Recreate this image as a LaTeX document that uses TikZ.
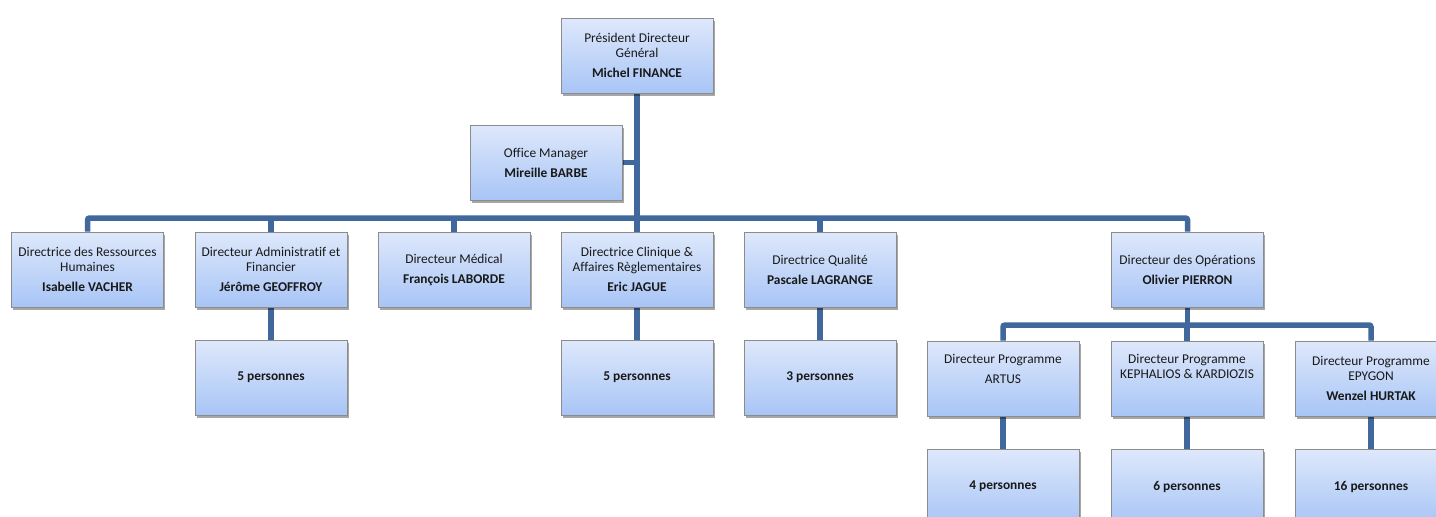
\documentclass[tikz,border=0pt]{standalone}
\usepackage{fontspec}
\setmainfont[Ligatures=NoCommon]{Carlito}
\usetikzlibrary{shadows}
\pgfdeclarelayer{canvas}
\pgfdeclarelayer{background}
\pgfsetlayers{canvas,background,main}
\definecolor{linkblue}{RGB}{64,104,156}
\definecolor{boxtop}{RGB}{222,232,251}
\definecolor{boxbot}{RGB}{168,197,246}
\definecolor{boxedge}{RGB}{140,140,140}
\tikzset{
  orgbox/.style={rectangle, draw=boxedge, line width=0.7pt,
    top color=boxtop, bottom color=boxbot,
    minimum width=152pt, minimum height=75pt, inner sep=0pt,
    align=center, font=\fontsize{13.4}{15}\selectfont, text=black!90,
    drop shadow={shadow xshift=1.5pt, shadow yshift=-2.5pt, opacity=0.35, fill=black}},
  link/.style={draw=linkblue, line width=5.5pt, rounded corners=2pt}
}
\newcommand{\nm}[1]{\\[5pt]\textbf{#1}}
\begin{document}
\begin{tikzpicture}[x=1pt,y=-1pt]
\useasboundingbox (0,0) rectangle (1436,517);
\clip (0,0) rectangle (1436,517);
\begin{pgfonlayer}{canvas}
  \fill[white] (0,0) rectangle (1436,517);
\end{pgfonlayer}

% top level
\node[orgbox] (pdg) at (637,55.5) {Président Directeur\\Général\nm{Michel FINANCE}};
\node[orgbox] (office) at (546,162.5) {Office Manager\nm{Mireille BARBE}};

% directors
\node[orgbox] (drh) at (87.5,269.5) {Directrice des Ressources\\Humaines\nm{Isabelle VACHER}};
\node[orgbox] (daf) at (271,269.5) {Directeur Administratif et\\Financier\nm{Jérôme GEOFFROY}};
\node[orgbox] (med) at (454,269.5) {Directeur Médical\nm{François LABORDE}};
\node[orgbox] (cli) at (637,269.5) {Directrice Clinique \&\\Affaires Règlementaires\nm{Eric JAGUE}};
\node[orgbox] (qua) at (820,269.5) {Directrice Qualité\nm{Pascale LAGRANGE}};
\node[orgbox] (ops) at (1187.5,269.5) {Directeur des Opérations\nm{Olivier PIERRON}};

% teams
\node[orgbox] (tdaf) at (271,377.5) {\textbf{5 personnes}};
\node[orgbox] (tcli) at (637,377.5) {\textbf{5 personnes}};
\node[orgbox] (tqua) at (820,377.5) {\textbf{3 personnes}};

% programme directors
\node[orgbox] (artus) at (1003,378.5) {Directeur Programme\\[5pt]ARTUS\\\strut};
\node[orgbox] (keph) at (1187,378.5) {Directeur Programme\\KEPHALIOS \& KARDIOZIS\\[5pt]\strut};
\node[orgbox] (epy) at (1371,378.5) {Directeur Programme\\EPYGON\nm{Wenzel HURTAK}};

% programme teams
\node[orgbox] (tartus) at (1003,486.5) {\textbf{4 personnes}};
\node[orgbox] (tkeph) at (1187,486.5) {\textbf{6 personnes}};
\node[orgbox] (tepy) at (1371,486.5) {\textbf{16 personnes}};

\coordinate (bus) at (0,218);
\coordinate (sub) at (0,325);

\begin{pgfonlayer}{background}
  \draw[link] (pdg.south) -- (pdg.south |- bus);
  \draw[link] (office.east) -- (office.east -| pdg.south);
  \draw[link] (drh.north) -- (drh.north |- bus) -- (ops.north |- bus) -- (ops.north);
  \foreach \n in {daf,med,cli,qua} \draw[link] (\n.north) -- (\n.north |- bus);
  \draw[link] (daf.south) -- (tdaf.north);
  \draw[link] (cli.south) -- (tcli.north);
  \draw[link] (qua.south) -- (tqua.north);
  \draw[link] (ops.south) -- (ops.south |- sub);
  \draw[link] (artus.north) -- (artus.north |- sub) -- (epy.north |- sub) -- (epy.north);
  \draw[link] (keph.north) -- (keph.north |- sub);
  \draw[link] (artus.south) -- (tartus.north);
  \draw[link] (keph.south) -- (tkeph.north);
  \draw[link] (epy.south) -- (tepy.north);
\end{pgfonlayer}
\end{tikzpicture}
\end{document}
